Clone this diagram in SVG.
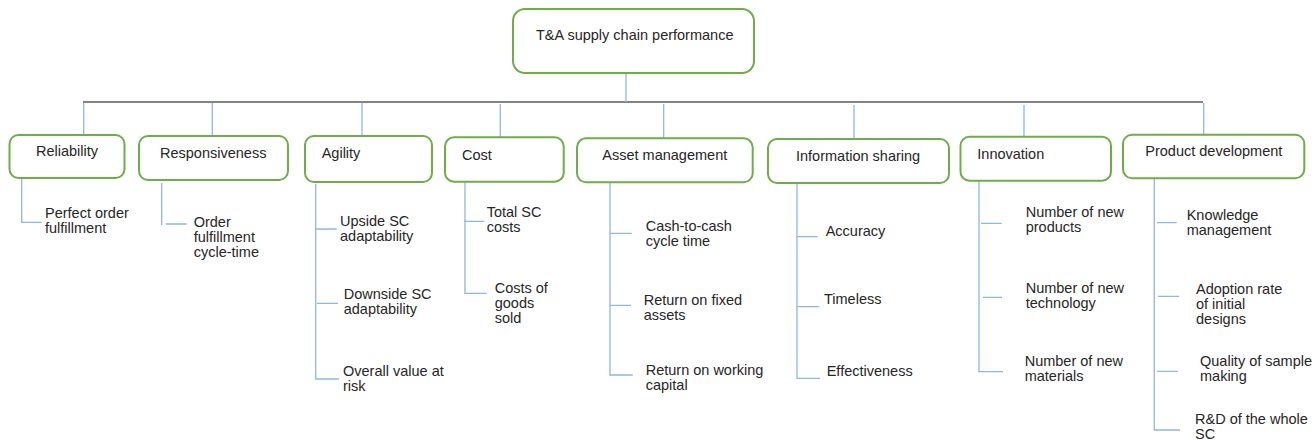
<svg xmlns="http://www.w3.org/2000/svg" width="1315" height="440" viewBox="0 0 1315 440">
<style>
.box{fill:#fff;stroke:#70ad47;stroke-width:2}
.t{font-family:"Liberation Sans",Arial,sans-serif;font-size:14.5px;fill:#262626}
.c{stroke:#8fb7e3;stroke-width:1.3;fill:none}
.bus{stroke:#5a5a5a;stroke-width:1.3;fill:none}
</style>
<rect width="1315" height="440" fill="#fff"/>
<g id="connectors">
<path class="bus" d="M83 102 H1203"/>
<path class="c" d="M626 73 V102"/>
<path class="c" d="M83.7 103 V135 M212.3 103 V136 M362 103 V136 M500.3 104 V137 M663.7 104 V138 M854 105 V139 M1024 105 V137 M1203.7 103 V135"/>
<!-- Reliability -->
<path class="c" d="M21.7 178 V222.3 H41.7"/>
<!-- Responsiveness -->
<path class="c" d="M161.7 183 V225 M165.7 224 H186.7"/>
<!-- Agility -->
<path class="c" d="M315.7 184 V379 H339 M316 229 H336.7 M317 303.3 H338"/>
<!-- Cost -->
<path class="c" d="M465 182 V293.3 H486.7 M464 221.3 H484.3"/>
<!-- Asset management -->
<path class="c" d="M610 182 V375 H632.7 M610 233.3 H631.7 M610 305.3 H631"/>
<!-- Information sharing -->
<path class="c" d="M797 183 V378.3 H820 M797 236.7 H817.3 M797 306.7 H819.3"/>
<!-- Innovation -->
<path class="c" d="M979 181 V371.7 H1003 M981 223.3 H1001.7 M983 297.3 H1002"/>
<!-- Product development -->
<path class="c" d="M1154.3 178 V430 H1180 M1157 222.7 H1176.7 M1158 296.3 H1179 M1157 371.3 H1177.7"/>
</g>
<g id="root">
<rect class="box" x="513" y="9" width="241" height="64" rx="12"/>
<text class="t" x="536" y="39.5">T&amp;A supply chain performance</text>
</g>
<g id="reliability">
<rect class="box" x="9.5" y="135" width="115" height="43" rx="9"/>
<text class="t" x="36" y="155.5">Reliability</text>
</g>
<g id="responsiveness">
<rect class="box" x="139" y="136" width="149" height="44" rx="9"/>
<text class="t" x="160" y="157.8">Responsiveness</text>
</g>
<g id="agility">
<rect class="box" x="305" y="136" width="127" height="46" rx="9"/>
<text class="t" x="321.7" y="158">Agility</text>
</g>
<g id="cost">
<rect class="box" x="445" y="137.3" width="118.7" height="44.4" rx="9"/>
<text class="t" x="462" y="159.5">Cost</text>
</g>
<g id="asset-management">
<rect class="box" x="577" y="138.3" width="175.7" height="44" rx="9"/>
<text class="t" x="602.3" y="160">Asset management</text>
</g>
<g id="information-sharing">
<rect class="box" x="768" y="139" width="181" height="44" rx="9"/>
<text class="t" x="796" y="161">Information sharing</text>
</g>
<g id="innovation">
<rect class="box" x="960.5" y="136.7" width="150.5" height="44" rx="9"/>
<text class="t" x="977.3" y="159">Innovation</text>
</g>
<g id="product-development">
<rect class="box" x="1123" y="134.7" width="181.3" height="43.6" rx="9"/>
<text class="t" x="1145.3" y="156">Product development</text>
</g>
<g id="leaves">
<text class="t" x="45" y="217.5">Perfect order<tspan x="45" dy="15">fulfillment</tspan></text>
<text class="t" x="193.7" y="227">Order<tspan x="193.7" dy="15">fulfillment</tspan><tspan x="193.7" dy="15">cycle-time</tspan></text>
<text class="t" x="340" y="225.5">Upside SC<tspan x="340" dy="15">adaptability</tspan></text>
<text class="t" x="343.7" y="299">Downside SC<tspan x="343.7" dy="15">adaptability</tspan></text>
<text class="t" x="343" y="376">Overall value at<tspan x="343" dy="15">risk</tspan></text>
<text class="t" x="486.7" y="217">Total SC<tspan x="486.7" dy="15">costs</tspan></text>
<text class="t" x="494.7" y="293">Costs of<tspan x="494.7" dy="15">goods</tspan><tspan x="494.7" dy="15">sold</tspan></text>
<text class="t" x="645.7" y="230.5">Cash-to-cash<tspan x="645.7" dy="15">cycle time</tspan></text>
<text class="t" x="643.7" y="304.5">Return on fixed<tspan x="643.7" dy="15">assets</tspan></text>
<text class="t" x="645.7" y="375">Return on working<tspan x="645.7" dy="15">capital</tspan></text>
<text class="t" x="825.7" y="235.5">Accuracy</text>
<text class="t" x="824" y="303.5">Timeless</text>
<text class="t" x="826.7" y="375.5">Effectiveness</text>
<text class="t" x="1025.7" y="217">Number of new<tspan x="1025.7" dy="15">products</tspan></text>
<text class="t" x="1025.7" y="292.5">Number of new<tspan x="1025.7" dy="15">technology</tspan></text>
<text class="t" x="1024.7" y="366">Number of new<tspan x="1024.7" dy="15">materials</tspan></text>
<text class="t" x="1186.7" y="219.5">Knowledge<tspan x="1186.7" dy="15">management</tspan></text>
<text class="t" x="1196" y="293.5">Adoption rate<tspan x="1196" dy="15">of initial</tspan><tspan x="1196" dy="15">designs</tspan></text>
<text class="t" x="1200" y="365.5">Quality of sample<tspan x="1200" dy="15">making</tspan></text>
<text class="t" x="1195" y="423.5">R&amp;D of the whole<tspan x="1195" dy="15">SC</tspan></text>
</g>
</svg>
